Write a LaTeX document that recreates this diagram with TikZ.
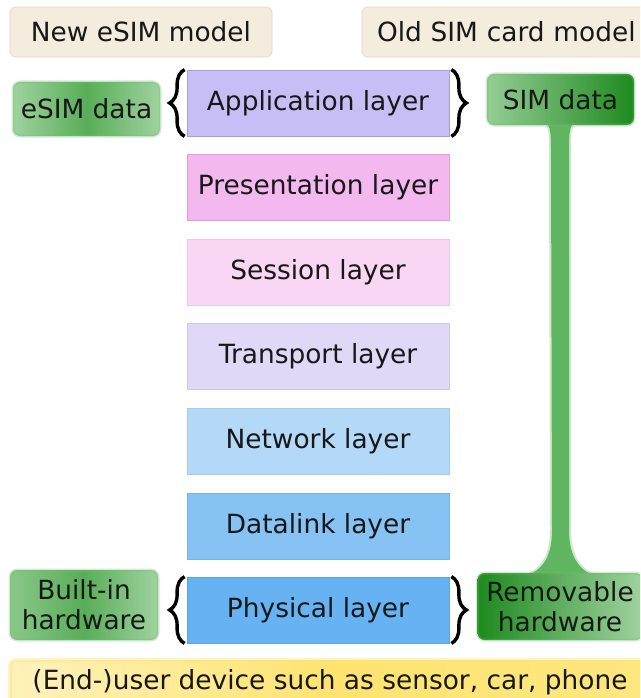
\documentclass[tikz,border=0pt]{standalone}
\usepackage{fontspec}
\setmainfont{DejaVu Sans}
\usetikzlibrary{decorations.pathreplacing}

% layer fills and borders
\definecolor{appfill}{RGB}{198,190,244}\definecolor{appline}{RGB}{168,159,214}
\definecolor{presfill}{RGB}{243,184,238}\definecolor{presline}{RGB}{220,160,216}
\definecolor{sessfill}{RGB}{248,214,244}\definecolor{sessline}{RGB}{236,200,232}
\definecolor{tranfill}{RGB}{224,216,246}\definecolor{tranline}{RGB}{208,200,236}
\definecolor{netfill}{RGB}{179,216,248}\definecolor{netline}{RGB}{165,204,238}
\definecolor{linkfill}{RGB}{134,194,244}\definecolor{linkline}{RGB}{120,180,234}
\definecolor{physfill}{RGB}{102,178,242}\definecolor{physline}{RGB}{90,164,228}
% header boxes
\definecolor{hdrfill}{RGB}{244,236,221}\definecolor{hdrline}{RGB}{226,217,200}
% greens
\definecolor{gdark}{RGB}{30,138,30}
\definecolor{gmid}{RGB}{88,174,88}
\definecolor{glight}{RGB}{160,210,160}
\definecolor{gfuzz}{RGB}{110,188,110}
\definecolor{stemgreen}{RGB}{96,182,96}
% yellow base bar
\definecolor{ymid}{RGB}{253,228,112}
\definecolor{yedge}{RGB}{255,242,188}
\definecolor{inktext}{RGB}{24,24,24}

\begin{document}
\begin{tikzpicture}[x=1pt,y=-1pt,
  every node/.style={font=\fontsize{26.4}{30}\selectfont, text=inktext},
  layerbox/.style={rectangle, minimum width=262pt, minimum height=66pt, line width=0.8pt, inner sep=0pt},
  header/.style={rectangle, rounded corners=6pt, fill=hdrfill, draw=hdrline, line width=0.8pt, minimum height=50pt, inner sep=0pt},
  greenbox/.style={rectangle, rounded corners=7pt, draw=gfuzz, draw opacity=0.3, line width=3pt, inner sep=0pt, align=center},
  bracestyle/.style={decorate, decoration={brace, amplitude=15pt, aspect=0.5}, line width=3.4pt, black},
]
\useasboundingbox (0,0) rectangle (640,698);
\clip (0,0) rectangle (640,698);
\fill[white] (0,0) rectangle (640,698);

% column headers
\node[header, minimum width=262pt] (newhdr) at (141,32) {New eSIM model};
\node[header, minimum width=290pt, text width=290pt, align=left, inner xsep=0pt] (oldhdr) at (507,32) {\hspace*{15pt}Old SIM card model};

% OSI layer stack
\node[layerbox, fill=appfill,  draw=appline]  (app)  at (318,103)   {Application layer};
\node[layerbox, fill=presfill, draw=presline] (pres) at (318,187.5) {Presentation layer};
\node[layerbox, fill=sessfill, draw=sessline] (sess) at (318,272)   {Session layer};
\node[layerbox, fill=tranfill, draw=tranline] (tran) at (318,356.5) {Transport layer};
\node[layerbox, fill=netfill,  draw=netline]  (net)  at (318,441)   {Network layer};
\node[layerbox, fill=linkfill, draw=linkline] (link) at (318,526)   {Datalink layer};
\node[layerbox, fill=physfill, draw=physline] (phys) at (318,610)   {Physical layer};

% braces around the application and physical layers
\draw[bracestyle] ([xshift=-2pt]app.south west) -- ([xshift=-2pt]app.north west);
\draw[bracestyle] ([xshift=2pt]app.north east) -- ([xshift=2pt]app.south east);
\draw[bracestyle] ([xshift=-2pt]phys.south west) -- ([xshift=-2pt]phys.north west);
\draw[bracestyle] ([xshift=2pt]phys.north east) -- ([xshift=2pt]phys.south east);

% stem joining SIM data to the removable hardware
\coordinate (stemtop) at (560,120);
\coordinate (stembot) at (560,578);
\fill[stemgreen, opacity=0.3]
  ([xshift=-24pt]stemtop) .. controls ([xshift=-10pt]stemtop) and (549,133) .. (549,152)
  -- (550,530) .. controls (550,560) and (538,572) .. ([xshift=-44pt]stembot)
  -- ([xshift=44pt]stembot) .. controls (584,572) and (571,560) .. (571,530)
  -- (571,152) .. controls (571,133) and ([xshift=10pt]stemtop) .. ([xshift=24pt]stemtop) -- cycle;
\fill[stemgreen]
  ([xshift=-20pt]stemtop) .. controls ([xshift=-9pt]stemtop) and (551,133) .. (551,152)
  -- (552,530) .. controls (552,558) and (542,572) .. ([xshift=-40pt]stembot)
  -- ([xshift=40pt]stembot) .. controls (580,572) and (569,558) .. (569,530)
  -- (569,152) .. controls (569,133) and ([xshift=9pt]stemtop) .. ([xshift=20pt]stemtop) -- cycle;

% data and hardware labels
\node[greenbox, minimum width=147pt, minimum height=54pt, left color=glight, right color=glight, middle color=gmid] (esim) at (86.5,109) {eSIM data};
\node[greenbox, minimum width=147pt, minimum height=51pt, left color=glight!85!gmid, right color=gdark] (sim) at (560.5,99.5) {SIM data};
\node[greenbox, minimum width=148pt, minimum height=70pt, left color=glight!70!gmid, right color=glight, middle color=gmid] (builtin) at (84,605) {Built-in\\hardware};
\node[greenbox, minimum width=165pt, minimum height=67pt, left color=gdark, right color=glight] (removable) at (560,606.5) {Removable\\hardware};

% device bar along the bottom
\node[rectangle, rounded corners=6pt, draw=ymid, draw opacity=0.4, line width=4pt, left color=yedge, right color=ymid!80!yedge, middle color=ymid, minimum width=640pt, minimum height=44pt, inner sep=0pt] (device) at (330,682) {(End-)user device such as sensor, car, phone};
\end{tikzpicture}
\end{document}
